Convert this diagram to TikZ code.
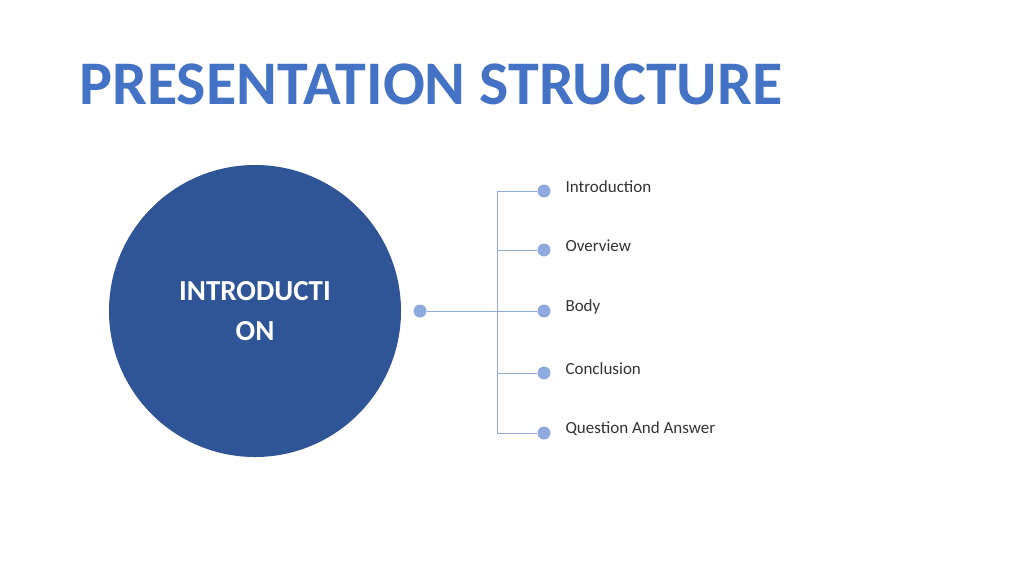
\documentclass[tikz,border=0pt]{standalone}
\usepackage{fontspec}
\setmainfont{Carlito}
\definecolor{titleblue}{HTML}{4472C4}
\definecolor{hubblue}{HTML}{2F5597}
\definecolor{dotblue}{HTML}{8FAADC}
\tikzset{
  dot/.style={circle, fill=dotblue, inner sep=0pt, minimum size=13pt},
  branch/.style={draw=dotblue, line width=1pt},
  item/.style={anchor=west, font=\fontsize{17}{20}\selectfont, text=black!80}
}
\begin{document}
\begin{tikzpicture}[x=1pt, y=-1pt]
  \useasboundingbox (0,0) rectangle (1024,576);

  \node[anchor=base west, text=titleblue, font=\fontsize{62}{70}\selectfont\bfseries, inner sep=0pt] (title) at (79,104) {PRESENTATION STRUCTURE};

  \node[circle, fill=hubblue, minimum size=292pt, inner sep=0pt, align=center, text=white,
        font=\fontsize{29}{40}\selectfont\bfseries] (hub) at (255,311) {INTRODUCTI\\ON};

  \node[dot] (root) at (420,311) {};
  \coordinate (joint) at (497,311);
  \draw[branch] (root) -- (joint);

  \foreach \y/\t [count=\i] in {191/Introduction, 250/Overview, 311/Body, 373/Conclusion, 433/Question And Answer} {
    \node[dot] (d\i) at (544,\y) {};
    \node[item] (t\i) at (562,\y-4) {\t};
    \coordinate (k\i) at (497,\y);
    \draw[branch] (k\i) -- (d\i);
  }
  \draw[branch] (k1) -- (k5);

\end{tikzpicture}
\end{document}
